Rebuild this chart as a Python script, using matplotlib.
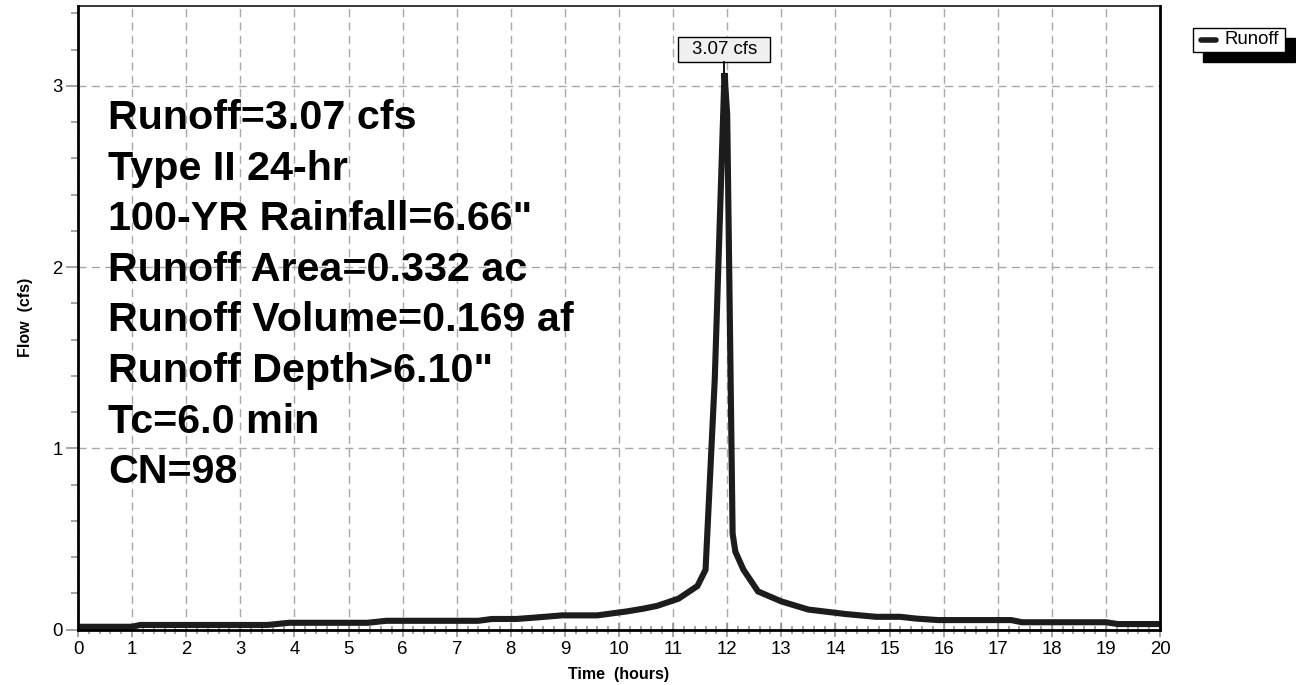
import matplotlib
matplotlib.use("Agg")
import matplotlib.pyplot as plt
from matplotlib.patches import Rectangle
from matplotlib.lines import Line2D
from matplotlib.ticker import MultipleLocator

plt.rcParams['font.family'] = ['Liberation Sans', 'DejaVu Sans']

# ---- data ----
time_h = [0.0, 1.0, 1.15, 3.5, 3.9, 5.35, 5.7, 7.4, 7.65, 8.1, 8.5, 8.95, 9.6,
          10.15, 10.45, 10.7, 11.1, 11.45, 11.6, 11.77, 11.95, 12.0, 12.1, 12.15,
          12.3, 12.57, 13.0, 13.5, 14.2, 14.75, 15.2, 15.5, 15.9, 17.25, 17.45,
          19.0, 19.22, 20.0]
flow_cfs = [0.015, 0.015, 0.025, 0.025, 0.037, 0.037, 0.048, 0.048, 0.058, 0.058,
            0.067, 0.078, 0.078, 0.10, 0.115, 0.13, 0.17, 0.24, 0.33, 1.38, 3.07,
            2.84, 0.53, 0.43, 0.33, 0.21, 0.155, 0.11, 0.085, 0.07, 0.07, 0.06,
            0.052, 0.052, 0.04, 0.04, 0.03, 0.03]
peak_time = 11.95
peak_flow = 3.07
peak_label = "3.07 cfs"
series_name = "Runoff"
info_lines = ["Runoff=3.07 cfs", "Type II 24-hr", '100-YR Rainfall=6.66"',
              "Runoff Area=0.332 ac", "Runoff Volume=0.169 af",
              'Runoff Depth>6.10"', "Tc=6.0 min", "CN=98"]
x_ticks = list(range(0, 21))
y_ticks = [0, 1, 2, 3]

W, H = 1296, 685
fig = plt.figure(figsize=(W / 100, H / 100), dpi=100)
L, R, T, B = 78, 1160, 6, 629.5
ax = fig.add_axes([L / W, 1 - B / H, (R - L) / W, (B - T) / H])
YMAX = 3.44
px_per_unit = (B - T) / YMAX
px_per_hour = (R - L) / 20.0

ax.plot(time_h, flow_cfs, color='#1c1c1c', lw=4.4, solid_joinstyle='miter', zorder=3)

ax.set_xlim(0, 20)
ax.set_ylim(0, YMAX)
ax.set_xticks(x_ticks)
ax.set_yticks(y_ticks)
ax.xaxis.set_minor_locator(MultipleLocator(0.2))
ax.yaxis.set_minor_locator(MultipleLocator(0.2))
ax.tick_params(axis='x', which='major', direction='inout', length=10, width=1.1,
               color='#8c8c8c', labelsize=13.4, pad=3)
ax.tick_params(axis='x', which='minor', direction='inout', length=6, width=1.1,
               color='#8c8c8c')
ax.tick_params(axis='y', which='major', direction='out', length=9, width=1.1,
               color='#8c8c8c', labelsize=13.4, pad=2)
ax.tick_params(axis='y', which='minor', direction='out', length=5, width=1.1,
               color='#8c8c8c')

ax.grid(True, which='major', color='#a8a8a8', lw=1.0, linestyle=(0, (5.8, 3.8)), zorder=1)
ax.set_axisbelow(True)

for s in ['left', 'bottom', 'right']:
    ax.spines[s].set_linewidth(2.0)
ax.spines['top'].set_linewidth(1.1)
for s in ax.spines.values():
    s.set_color('black')
    s.set_zorder(4)

ax.set_xlabel("Time  (hours)", fontsize=11.5, fontweight='bold', labelpad=7)
ax.set_ylabel("Flow  (cfs)", fontsize=11.5, fontweight='bold', labelpad=14)

# info text block
for i, line in enumerate(info_lines):
    yb = 129 + i * 50.6
    fig.text(108 / W, 1 - yb / H, line, fontsize=29.7, fontweight='bold',
             ha='left', va='baseline', color='black')

# peak annotation: box 92x25 px, centred on the peak time
box_w = 92 / px_per_hour
box_bot = (B - 62) / px_per_unit
box_top = (B - 37) / px_per_unit
ax.add_patch(Rectangle((peak_time - box_w / 2, box_bot), box_w, box_top - box_bot,
                       fc='#f0f0f0', ec='black', lw=1.0, clip_on=False, zorder=5))
ax.text(peak_time, (box_bot + box_top) / 2, peak_label, ha='center', va='center',
        fontsize=13.4, zorder=6, clip_on=False)
ax.plot([peak_time, peak_time], [peak_flow, box_bot], color='black', lw=1.3,
        clip_on=False, zorder=5)

# legend (manual, with solid shadow)
def fx(px):
    return px / W

def fy(py):
    return 1 - py / H

bx0, by0, bx1, by1 = 1193, 28, 1285, 52
off = 10
fig.add_artist(Rectangle((fx(bx0 + off), fy(by1 + off)), fx(bx1 - bx0), (by1 - by0) / H,
                         transform=fig.transFigure, fc='black', ec='black', zorder=1))
fig.add_artist(Rectangle((fx(bx0), fy(by1)), fx(bx1 - bx0), (by1 - by0) / H,
                         transform=fig.transFigure, fc='white', ec='black', lw=1.0, zorder=2))
fig.add_artist(Line2D([fx(1201), fx(1216)], [fy(40), fy(40)], transform=fig.transFigure,
                      color='#1c1c1c', lw=4.0, solid_capstyle='round', zorder=3))
fig.text(fx(1224), fy(40), series_name, fontsize=13.4, ha='left', va='center', zorder=3)

fig.savefig("out.png", dpi=100)
